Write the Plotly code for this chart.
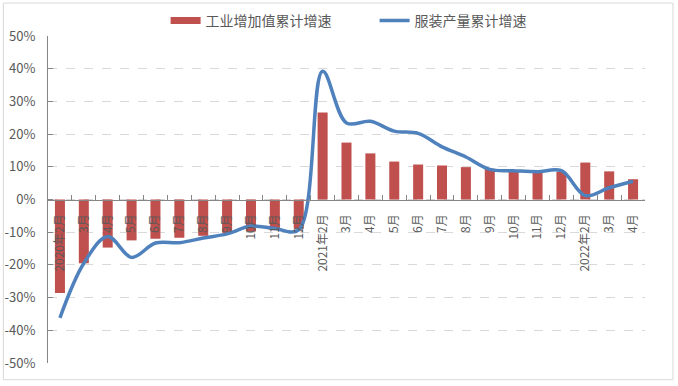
import plotly.graph_objects as go

# ---- data ----
categories = ["2020年2月", "2020年3月", "2020年4月", "2020年5月", "2020年6月", "2020年7月",
              "2020年8月", "2020年9月", "2020年10月", "2020年11月", "2020年12月",
              "2021年2月", "2021年3月", "2021年4月", "2021年5月", "2021年6月", "2021年7月",
              "2021年8月", "2021年9月", "2021年10月", "2021年11月", "2021年12月",
              "2022年2月", "2022年3月", "2022年4月"]
tick_labels = ["2020年2月", "3月", "4月", "5月", "6月", "7月", "8月", "9月", "10月", "11月", "12月",
               "2021年2月", "3月", "4月", "5月", "6月", "7月", "8月", "9月", "10月", "11月", "12月",
               "2022年2月", "3月", "4月"]
industry_growth = [-28.6, -19.5, -14.7, -12.5, -12.0, -11.7, -11.1, -10.2, -9.8, -9.4, -8.9,
                   26.6, 17.4, 14.1, 11.6, 10.7, 10.4, 9.9, 9.4, 8.9, 8.6, 8.5,
                   11.3, 8.6, 6.2]
apparel_growth = [-36.2, -19.5, -11.3, -17.7, -13.3, -13.2, -11.8, -10.5, -8.1, -8.9, -9.3,
                  39.2, 23.4, 23.9, 20.9, 20.2, 16.1, 13.0, 9.2, 8.8, 8.5, 8.8,
                  1.2, 3.6, 5.6]
y_tick_values = [-50, -40, -30, -20, -10, 0, 10, 20, 30, 40, 50]
y_tick_labels = ["-50%", "-40%", "-30%", "-20%", "-10%", "0%", "10%", "20%", "30%", "40%", "50%"]
series_names = ["工业增加值累计增速", "服装产量累计增速"]

GREY_TEXT = "#595959"
AXIS = "#868686"
BAR_RED = "#C0504D"
LINE_BLUE = "#4F81BD"
FONT = "Noto Sans CJK SC"

fig = go.Figure()
fig.add_trace(go.Bar(
    x=categories, y=industry_growth, name=series_names[0],
    marker=dict(color=BAR_RED, line=dict(width=0)),
    showlegend=False, legendgroup="bar",
))
# legend swatch for the bar series (wide flat rectangle like the original)
fig.add_trace(go.Scatter(
    x=[None], y=[None], name=series_names[0], mode="lines",
    line=dict(color=BAR_RED, width=7), legendgroup="bar", hoverinfo="skip",
))
fig.add_trace(go.Scatter(
    x=categories, y=apparel_growth, name=series_names[1], mode="lines",
    line=dict(color=LINE_BLUE, width=3.5, shape="spline", smoothing=1.0),
))

fig.update_layout(
    width=678, height=386,
    margin=dict(l=48, r=33, t=36, b=23, autoexpand=False),
    paper_bgcolor="white", plot_bgcolor="white",
    font=dict(family=FONT, size=12, color=GREY_TEXT),
    bargap=0.58,
    showlegend=True,
    legend=dict(orientation="h", x=0.197, xanchor="left", y=1.095, yanchor="top",
                font=dict(family=FONT, size=14, color=GREY_TEXT),
                entrywidth=164, entrywidthmode="pixels",
                bgcolor="rgba(0,0,0,0)", traceorder="normal"),
    xaxis=dict(
        type="category", categoryorder="array", categoryarray=categories,
        tickmode="array", tickvals=categories, ticktext=tick_labels,
        anchor="free", position=0.5,
        showline=True, linecolor=AXIS, linewidth=1,
        ticks="inside", ticklen=5, tickcolor=AXIS, tickson="boundaries",
        tickangle=-90, ticklabelstandoff=9,
        showgrid=False, zeroline=False, automargin=False,
        tickfont=dict(family=FONT, size=12, color=GREY_TEXT),
    ),
    yaxis=dict(
        range=[-50, 50], tickmode="array", tickvals=y_tick_values, ticktext=y_tick_labels,
        showline=True, linecolor=AXIS, linewidth=1,
        ticks="inside", ticklen=5, tickcolor=AXIS, ticklabelstandoff=9,
        showgrid=True, gridcolor="#D9D9D9", griddash="dash", gridwidth=1,
        zeroline=False, automargin=False,
        tickfont=dict(family=FONT, size=13, color=GREY_TEXT),
    ),
    shapes=[dict(type="rect", xref="paper", yref="paper",
                 x0=-0.0748, x1=1.0469, y0=-0.051, y1=1.1008,
                 line=dict(color="#D9D9D9", width=1), fillcolor="rgba(0,0,0,0)", layer="below")],
)

fig.write_html("out.html", config={"displayModeBar": False},
               post_script="document.body.style.margin='0';document.body.style.padding='0';")
